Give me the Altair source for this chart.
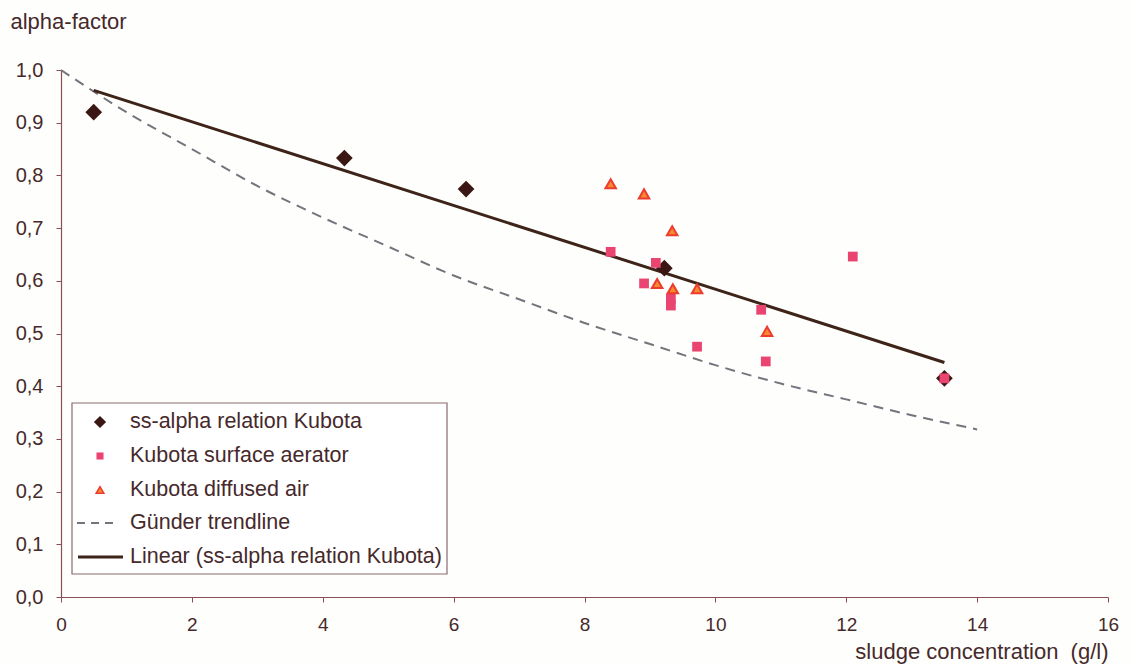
import altair as alt
import pandas as pd

# ss-alpha relation Kubota
ss_x = [0.5, 4.33, 6.19, 9.22, 13.5]
ss_alpha = [0.92, 0.833, 0.774, 0.624, 0.415]

# Kubota surface aerator
sa_x = [8.40, 9.09, 8.91, 9.32, 9.32, 10.70, 9.72, 10.77, 12.10, 13.5]
sa_alpha = [0.655, 0.634, 0.595, 0.566, 0.553, 0.545, 0.475, 0.447, 0.646, 0.415]

# Kubota diffused air
da_x = [8.40, 8.91, 9.34, 9.11, 9.35, 9.72, 10.79]
da_alpha = [0.784, 0.765, 0.695, 0.595, 0.585, 0.585, 0.504]

# Günder trendline
gu_x = [0, 1, 2, 3, 4, 5, 6, 7, 8, 9, 10, 11, 12, 13, 14]
gu_alpha = [1.00, 0.92, 0.85, 0.78, 0.72, 0.665, 0.61, 0.565, 0.52, 0.48,
            0.44, 0.405, 0.375, 0.345, 0.318]

x_ticks = [0, 2, 4, 6, 8, 10, 12, 14, 16]
y_ticks = [0.0, 0.1, 0.2, 0.3, 0.4, 0.5, 0.6, 0.7, 0.8, 0.9, 1.0]

legend_labels = [
    "ss-alpha relation Kubota",
    "Kubota surface aerator",
    "Kubota diffused air",
    "Günder trendline",
    "Linear (ss-alpha relation Kubota)",
]

TEXT = "#46292a"
AXIS = "#8c4d55"
DIAMOND = "#3a1712"
PINK = "#ea4470"
TRI_EDGE = "#ee3b2f"
TRI_FILL = "#f58a2c"
DASH = "#74757c"
LINE = "#3d2318"
FONT = "Liberation Sans"

W, H = 1047, 527

ss = pd.DataFrame({"x": ss_x, "alpha": ss_alpha})
sa = pd.DataFrame({"x": sa_x, "alpha": sa_alpha})
da = pd.DataFrame({"x": da_x, "alpha": da_alpha})
gu = pd.DataFrame({"x": gu_x, "alpha": gu_alpha})

xs = alt.Scale(domain=[0, 16], nice=False)
ys = alt.Scale(domain=[0, 1], nice=False)

x_enc = alt.X(
    "x:Q", scale=xs,
    axis=alt.Axis(
        values=x_ticks, grid=False, format="d", labelFlush=False,
        title="sludge concentration\u00a0\u00a0(g/l)",
        titleAnchor="end", titleAlign="right", titleX=W, titleY=61,
        titleBaseline="alphabetic", labelPadding=13,
    ),
)
y_enc = alt.Y(
    "alpha:Q", scale=ys,
    axis=alt.Axis(
        values=y_ticks, grid=False, title="alpha-factor", labelFlush=False,
        labelExpr="replace(format(datum.value, '.1f'), '.', ',')",
        titleAngle=0, titleAlign="left", titleBaseline="alphabetic",
        titleX=-51, titleY=-42, labelPadding=13, labelFontSize=20,
    ),
)

gunder = alt.Chart(gu).mark_line(
    color=DASH, strokeWidth=2, strokeDash=[10, 7], interpolate="monotone"
).encode(x=x_enc, y=y_enc)

linear = alt.Chart(ss).transform_regression("x", "alpha").mark_line(
    color=LINE, strokeWidth=3
).encode(x=alt.X("x:Q", scale=xs), y=alt.Y("alpha:Q", scale=ys))

diamonds = alt.Chart(ss).mark_point(
    shape="diamond", filled=True, size=280, color=DIAMOND, opacity=1
).encode(x=alt.X("x:Q", scale=xs), y=alt.Y("alpha:Q", scale=ys))

squares = alt.Chart(sa).mark_point(
    shape="square", filled=True, size=95, color=PINK, opacity=1
).encode(x=alt.X("x:Q", scale=xs), y=alt.Y("alpha:Q", scale=ys))

triangles = alt.Chart(da).mark_point(
    shape="triangle-up", filled=True, size=110, fill=TRI_FILL,
    stroke=TRI_EDGE, strokeWidth=2, opacity=1
).encode(x=alt.X("x:Q", scale=xs), y=alt.Y("alpha:Q", scale=ys))

# Legend box, drawn in plot-pixel space
base = alt.Chart(pd.DataFrame({"k": [0]}))
box = base.mark_rect(fill="white", stroke="#8a6a6a", strokeWidth=1.2).encode(
    x=alt.value(11), x2=alt.value(386), y=alt.value(333), y2=alt.value(504)
)
row_y = [352, 386, 420, 453, 487]
sym_x = 39
leg = [box]
leg.append(base.mark_point(shape="diamond", filled=True, size=150,
                           color=DIAMOND, opacity=1).encode(
    x=alt.value(sym_x), y=alt.value(row_y[0])))
leg.append(base.mark_point(shape="square", filled=True, size=50,
                           color=PINK, opacity=1).encode(
    x=alt.value(sym_x), y=alt.value(row_y[1])))
leg.append(base.mark_point(shape="triangle-up", filled=True, size=60,
                           fill=TRI_FILL, stroke=TRI_EDGE, strokeWidth=1.5,
                           opacity=1).encode(
    x=alt.value(sym_x), y=alt.value(row_y[2])))
leg.append(base.mark_rule(color=DASH, strokeWidth=2, strokeDash=[8, 6]).encode(
    x=alt.value(16), x2=alt.value(58), y=alt.value(row_y[3])))
leg.append(base.mark_rule(color=LINE, strokeWidth=3).encode(
    x=alt.value(17), x2=alt.value(62), y=alt.value(row_y[4])))
for label, yy in zip(legend_labels, row_y):
    leg.append(base.mark_text(
        align="left", baseline="middle", font=FONT, fontSize=21.5, color=TEXT
    ).encode(x=alt.value(69), y=alt.value(yy), text=alt.value(label)))

chart = alt.layer(
    gunder, linear, diamonds, squares, triangles, *leg
).properties(
    width=W, height=H,
    autosize=alt.AutoSizeParams(type="none"),
    padding={"left": 61, "top": 70, "right": 24, "bottom": 68},
    background="#fefefc",
).configure_view(
    stroke=None
).configure_axis(
    labelFont=FONT, titleFont=FONT, labelColor=TEXT, titleColor=TEXT,
    labelFontSize=19, titleFontSize=22, titleFontWeight="normal",
    domainColor=AXIS, tickColor=AXIS, tickSize=5, domainWidth=1.2,
)

chart.save("out.html", embed_options={"renderer": "svg", "actions": False})
